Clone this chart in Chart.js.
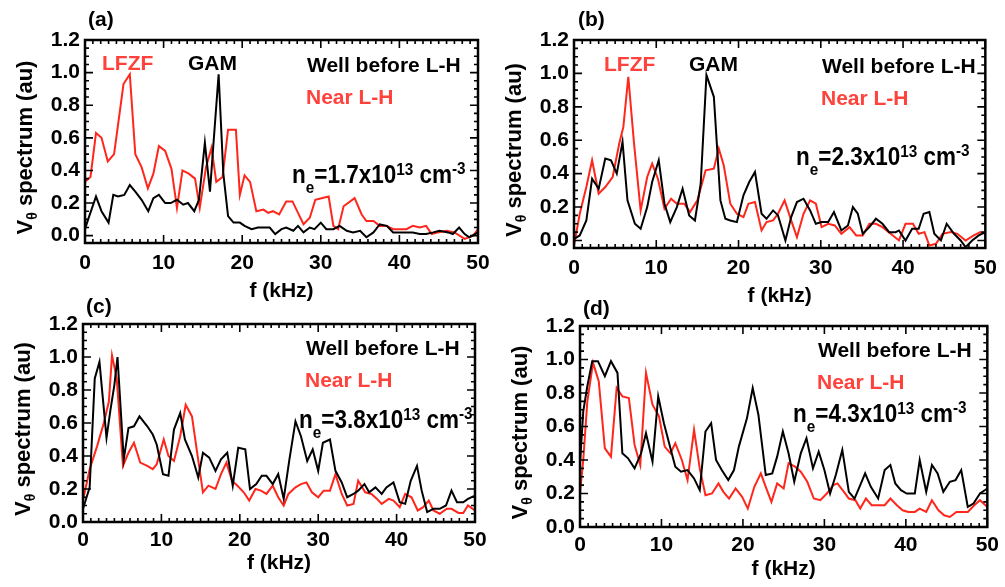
<!DOCTYPE html>
<html>
<head>
<meta charset="utf-8">
<script src="https://cdn.jsdelivr.net/npm/chart.js@4.4.1/dist/chart.umd.min.js"></script>
<style>
  html, body { margin: 0; padding: 0; background: #fff; }
  #wrap { position: relative; width: 1005px; height: 587px; overflow: hidden; }
  #wrap canvas { position: absolute; left: 0; top: 0; }
</style>
</head>
<body>
<div id="wrap">
  <canvas id="pa" width="1005" height="587"></canvas>
  <canvas id="pb" width="1005" height="587"></canvas>
  <canvas id="pc" width="1005" height="587"></canvas>
  <canvas id="pd" width="1005" height="587"></canvas>
</div>
<script>
// tick labels (shared by all 4 panels)
const xTicks = [0, 10, 20, 30, 40, 50];
const yTicks = [0, 0.2, 0.4, 0.6, 0.8, 1.0, 1.2];

// (a) ne = 1.7e13
const freqA_wb = [0,0.4,1.4,2.1,3.0,3.6,4.2,5.0,5.7,6.4,7.2,8.05,8.7,9.4,10.2,10.9,11.7,12.5,13.1,13.9,14.5,15.25,15.9,16.2,17.0,17.6,18.2,18.9,19.7,20.3,21.2,22.0,22.7,23.5,24.2,25.0,25.6,26.5,27.1,27.8,28.6,29.2,30.0,30.7,31.6,32.4,33.3,34.1,35.0,35.8,36.7,37.5,38.4,39.2,40.0,40.9,41.7,42.6,43.4,44.3,45.1,46.2,46.8,47.6,48.3,48.9,50];
const specA_wb = [0.04,0.10,0.24,0.15,0.08,0.25,0.24,0.25,0.31,0.27,0.22,0.15,0.23,0.25,0.20,0.20,0.22,0.19,0.20,0.15,0.22,0.57,0.27,0.47,0.99,0.38,0.12,0.08,0.08,0.06,0.04,0.05,0.05,0.05,0.01,0.04,0.05,0.03,0.06,0.02,0.05,0.04,0.08,0.04,0.04,0.06,0.03,0.02,0.03,-0.01,0.02,0.07,0.06,0.02,0.02,0.02,0.02,0.01,0.01,0.02,0.03,0.02,0.01,0.05,0.01,-0.01,0.02];
const freqA_nr = [0,0.7,1.4,2.1,2.9,3.7,4.9,5.7,6.4,7.2,8.0,8.7,9.4,10.2,11.0,11.7,12.4,13.2,14.0,14.6,15.4,16.1,16.7,17.5,18.2,19.2,19.7,20.3,21.0,21.8,22.7,23.3,23.9,24.7,25.6,26.4,27.1,27.8,28.6,29.3,30.1,31.0,31.6,32.2,32.9,34.3,35.2,35.8,36.7,37.5,38.4,39.2,40.0,40.9,41.7,42.6,43.4,44.1,44.9,46.0,47.0,48.3,49.4,50];
const specA_nr = [0.33,0.36,0.63,0.60,0.455,0.50,0.93,0.99,0.50,0.42,0.29,0.38,0.55,0.52,0.41,0.17,0.40,0.38,0.35,0.17,0.42,0.54,0.33,0.36,0.65,0.65,0.25,0.37,0.33,0.15,0.16,0.14,0.15,0.13,0.21,0.21,0.14,0.07,0.11,0.22,0.23,0.24,0.06,0.04,0.18,0.23,0.13,0.09,0.09,0.06,0.06,0.04,0.04,0.04,0.06,0.05,0.06,0.01,0.02,0.03,0.02,-0.02,0.0,0.04];

// (b) ne = 2.3e13
const freqB_wb = [0,0.7,1.5,2.2,3.0,3.8,4.5,5.2,5.9,6.5,7.4,8.1,8.9,9.5,10.3,11.0,11.7,12.5,13.2,14.0,14.7,15.4,16.1,17.0,17.8,18.4,19.0,19.8,20.6,21.3,22.0,22.8,23.4,24.2,24.8,25.7,26.4,27.1,27.9,28.7,29.4,30.1,30.9,31.6,32.5,33.3,33.9,34.5,35.1,35.9,36.7,37.5,38.3,39.1,39.5,40.3,41.1,41.9,42.5,43.2,43.8,44.6,45.3,46.2,47.0,47.6,48.4,49.2,50];
const specB_wb = [0.01,0.03,0.12,0.37,0.31,0.49,0.48,0.40,0.59,0.24,0.10,0.07,0.20,0.35,0.48,0.22,0.11,0.20,0.31,0.15,0.12,0.34,0.99,0.86,0.24,0.13,0.12,0.11,0.27,0.35,0.41,0.16,0.13,0.18,0.15,0.0,0.14,0.23,0.25,0.18,0.10,0.11,0.11,0.17,0.06,0.09,0.20,0.16,0.04,0.08,0.13,0.10,0.05,0.05,0.06,0.0,0.07,0.07,0.16,0.17,0.04,0.0,0.10,0.04,0.0,-0.04,0.0,0.03,0.05];
const freqB_nr = [0,0.7,1.5,2.2,3.0,3.8,4.7,5.5,6.0,6.6,7.3,8.1,8.9,9.5,10.2,11.0,11.8,12.5,13.4,14.1,15.0,16.0,17.0,17.6,18.2,19.0,19.8,20.6,21.2,22.0,22.8,23.4,24.2,24.8,25.6,26.4,27.1,27.9,28.7,29.4,30.1,30.9,31.7,32.5,33.5,34.3,35.1,35.9,36.7,37.5,38.5,39.5,40.3,41.2,41.9,42.6,43.2,44.0,44.8,45.8,46.6,47.6,48.6,49.4,50];
const specB_nr = [-0.03,0.16,0.32,0.48,0.28,0.32,0.38,0.58,0.68,0.98,0.58,0.18,0.38,0.46,0.37,0.19,0.25,0.22,0.22,0.17,0.24,0.42,0.43,0.55,0.45,0.22,0.16,0.14,0.22,0.23,0.06,0.11,0.12,0.16,0.24,0.12,0.02,0.16,0.24,0.22,0.08,0.10,0.09,0.04,0.08,0.03,0.03,0.10,0.10,0.08,0.04,0.0,0.10,0.10,0.04,0.05,-0.03,-0.02,0.04,0.05,0.04,0.0,0.03,0.05,0.04];

// (c) ne = 3.8e13
const freqC_wb = [0,0.85,1.5,2.1,3.0,3.5,4.0,4.4,5.2,5.8,6.5,7.2,8.2,8.9,9.4,10.2,10.9,11.6,12.4,13.0,13.9,14.7,15.3,16.1,16.9,17.6,18.4,19.1,19.8,20.7,21.3,22.1,22.8,23.4,24.2,24.9,25.6,26.3,27.1,27.8,28.6,29.3,30.0,30.6,31.5,32.2,33.0,33.7,34.5,35.1,35.9,36.5,37.3,38.1,38.7,39.6,40.4,41.1,41.8,42.6,43.2,43.9,44.7,45.5,46.3,47.0,47.7,48.5,49.1,50];
const specC_wb = [0.08,0.21,0.87,0.97,0.51,0.68,0.83,1.0,0.38,0.57,0.58,0.64,0.58,0.53,0.47,0.29,0.28,0.56,0.66,0.50,0.40,0.27,0.42,0.39,0.31,0.38,0.42,0.22,0.45,0.44,0.20,0.23,0.28,0.28,0.23,0.29,0.14,0.37,0.61,0.52,0.37,0.44,0.31,0.48,0.50,0.31,0.24,0.15,0.17,0.19,0.23,0.18,0.21,0.17,0.21,0.24,0.12,0.11,0.25,0.34,0.19,0.06,0.08,0.08,0.10,0.19,0.12,0.12,0.14,0.16];
const freqC_nr = [0,0.85,1.8,2.6,3.3,3.7,4.3,5.1,5.8,6.5,7.3,8.2,8.9,9.4,10.3,10.9,11.6,12.4,13.1,13.9,14.5,15.3,16.0,16.9,17.6,18.3,19.0,19.7,20.5,21.2,22.0,22.7,23.4,24.2,24.9,25.6,26.2,27.1,27.8,28.5,29.2,30.0,30.7,31.5,32.2,33.0,33.7,34.5,35.1,36.0,36.8,37.5,38.1,39.0,39.6,40.4,41.1,41.9,42.7,43.4,44.1,44.7,45.5,46.4,47.0,47.9,48.5,49.1,50];
const specC_nr = [0.13,0.32,0.46,0.59,0.73,1.01,0.87,0.34,0.42,0.48,0.36,0.34,0.32,0.35,0.50,0.40,0.37,0.52,0.71,0.64,0.44,0.18,0.22,0.20,0.29,0.36,0.25,0.22,0.18,0.13,0.20,0.19,0.17,0.22,0.15,0.10,0.17,0.21,0.23,0.24,0.18,0.15,0.19,0.19,0.29,0.17,0.10,0.11,0.25,0.18,0.17,0.14,0.11,0.14,0.13,0.09,0.17,0.15,0.07,0.09,0.13,0.07,0.05,0.08,0.08,0.055,0.055,0.10,0.07];

// (d) ne = 4.3e13
const freqD_wb = [0,0.4,0.9,1.5,2.2,3.05,3.8,4.6,5.2,5.9,6.7,7.5,8.1,8.9,9.6,10.3,11.1,11.7,12.4,13.2,14.0,14.7,15.4,16.1,16.7,17.4,18.2,18.9,19.5,20.5,21.2,21.9,22.8,23.6,24.2,24.9,25.6,26.3,27.1,27.8,28.6,29.3,30.0,30.7,31.4,32.2,33.0,33.7,34.4,35.0,35.7,36.6,37.4,38.1,38.7,39.4,40.1,41.1,41.7,42.5,43.2,43.9,44.6,45.4,46.1,46.8,47.6,48.3,49.1,50];
const specD_wb = [0.38,0.69,0.84,0.99,0.99,0.90,0.99,0.92,0.44,0.41,0.35,0.44,0.56,0.39,0.78,0.62,0.47,0.36,0.33,0.34,0.29,0.22,0.57,0.62,0.40,0.34,0.28,0.34,0.48,0.65,0.83,0.67,0.31,0.32,0.42,0.57,0.44,0.27,0.44,0.53,0.35,0.45,0.34,0.20,0.31,0.46,0.21,0.17,0.25,0.32,0.24,0.17,0.34,0.37,0.26,0.22,0.20,0.20,0.40,0.21,0.37,0.32,0.21,0.27,0.28,0.34,0.12,0.14,0.20,0.23];
const freqD_nr = [0,0.4,0.9,1.6,2.3,3.05,3.8,4.5,5.2,6.0,6.7,7.4,8.1,8.9,9.7,10.4,11.1,11.7,12.5,13.2,14.0,14.7,15.4,16.2,17.0,17.6,18.3,19.1,19.9,20.6,21.4,22.2,22.8,23.5,24.2,25.0,25.6,26.4,27.1,27.9,28.7,29.5,30.3,31.1,31.6,32.4,33.0,33.8,34.4,35.1,35.8,36.6,37.4,38.1,38.9,39.6,40.3,41.1,41.7,42.5,43.2,44.0,44.7,45.4,46.2,47.0,47.6,48.4,49.1,50];
const specD_nr = [0.20,0.40,0.75,0.98,0.87,0.47,0.42,0.83,0.78,0.77,0.49,0.37,0.92,0.73,0.66,0.48,0.44,0.50,0.40,0.28,0.58,0.35,0.19,0.20,0.26,0.21,0.17,0.23,0.18,0.11,0.24,0.32,0.24,0.15,0.26,0.23,0.38,0.36,0.33,0.27,0.17,0.16,0.20,0.25,0.26,0.21,0.17,0.16,0.11,0.17,0.13,0.13,0.13,0.17,0.13,0.10,0.09,0.09,0.11,0.09,0.16,0.10,0.07,0.06,0.09,0.09,0.09,0.13,0.16,0.12];

const FONT = "'Liberation Sans', Arial, Helvetica, sans-serif";
const RED = 'rgb(255,38,28)';
const RED_TXT = 'rgb(255,66,60)';
const FRAME = '#000000';

// draw a run of text pieces (for sub/superscripts), optional horizontal squeeze
function richText(ctx, x, y, parts, sx) {
  ctx.save();
  ctx.translate(x, y);
  ctx.scale(sx || 1, 1);
  ctx.textBaseline = 'alphabetic';
  ctx.textAlign = 'left';
  let cx = 0;
  parts.forEach(p => {
    ctx.font = 'bold ' + p.size + 'px ' + FONT;
    ctx.fillStyle = p.color || '#000';
    ctx.fillText(p.t, cx, p.dy || 0);
    cx += ctx.measureText(p.t).width + (p.gap || 0);
  });
  ctx.restore();
}

function textWidth(ctx, parts) {
  let w = 0;
  parts.forEach(p => {
    ctx.font = 'bold ' + p.size + 'px ' + FONT;
    w += ctx.measureText(p.t).width + (p.gap || 0);
  });
  return w;
}

// plot frame with inward ticks on all four sides
const frameTicks = {
  id: 'frameTicks',
  afterDatasetsDraw(chart) {
    const ctx = chart.ctx;
    const a = chart.chartArea;
    const xs = chart.scales.x;
    const ys = chart.scales.y;
    ctx.save();
    ctx.strokeStyle = FRAME;
    ctx.lineWidth = 2.5;
    ctx.strokeRect(a.left, a.top, a.right - a.left, a.bottom - a.top);
    ctx.lineWidth = 1.6;
    ctx.beginPath();
    // x: major every 10 kHz, minor every 1 kHz
    for (let f = 0; f <= 50; f++) {
      const px = xs.getPixelForValue(f);
      const len = f % 10 === 0 ? 8 : 4;
      ctx.moveTo(px, a.bottom); ctx.lineTo(px, a.bottom - len);
      ctx.moveTo(px, a.top); ctx.lineTo(px, a.top + len);
    }
    // y: major every 0.2, minor every 0.05
    for (let k = 0; k <= 24; k++) {
      const py = ys.getPixelForValue(k * 0.05);
      const len = k % 4 === 0 ? 8 : 4;
      ctx.moveTo(a.left, py); ctx.lineTo(a.left + len, py);
      ctx.moveTo(a.right, py); ctx.lineTo(a.right - len, py);
    }
    ctx.stroke();
    ctx.restore();
  }
};

// y title with subscript theta, plus the panel annotations
const panelText = {
  id: 'panelText',
  afterDraw(chart, args, opts) {
    const ctx = chart.ctx;
    const a = chart.chartArea;
    const title = [
      { t: 'V', size: 22 },
      { t: '\u03b8', size: 14, dy: 5 },
      { t: ' spectrum (au)', size: 22 }
    ];
    const w = textWidth(ctx, title);
    ctx.save();
    ctx.translate(a.left - 53, (a.top + a.bottom) / 2 + 6);
    ctx.rotate(-Math.PI / 2);
    richText(ctx, -w / 2, 0, title);
    ctx.restore();
    opts.notes.forEach(n => richText(ctx, n.x, n.y, n.parts, n.sx));
  }
};

function label(t, x, y, color) {
  return { x, y, parts: [{ t, size: 21, color: color || '#000' }] };
}

function density(num, x, y) {
  return {
    x, y, sx: 0.9,
    parts: [
      { t: 'n', size: 25 },
      { t: 'e', size: 17, dy: 10 },
      { t: '=' + num + 'x10', size: 25 },
      { t: '13', size: 17, dy: -8 },
      { t: ' cm', size: 25 },
      { t: '-3', size: 17, dy: -9 }
    ]
  };
}

function pts(fs, vs) {
  return fs.map((f, i) => ({ x: f, y: vs[i] }));
}

function makePanel(id, box, yMin, xPad, xH, wbF, wbV, nrF, nrV, notes) {
  const tickFont = { family: FONT, size: 21, weight: 'bold' };
  new Chart(document.getElementById(id), {
    type: 'line',
    data: {
      datasets: [
        { label: 'Well before L-H', data: pts(wbF, wbV), borderColor: '#000', borderWidth: 2 },
        { label: 'Near L-H', data: pts(nrF, nrV), borderColor: RED, borderWidth: 2 }
      ]
    },
    options: {
      responsive: false,
      animation: false,
      events: [],
      elements: { point: { radius: 0 }, line: { tension: 0 } },
      layout: {
        padding: { left: box.l - 80, right: 1005 - box.r, top: box.t, bottom: 587 - box.b - xH }
      },
      plugins: {
        legend: { display: false },
        tooltip: { enabled: false },
        panelText: { notes }
      },
      scales: {
        x: {
          type: 'linear', min: 0, max: 50,
          afterBuildTicks: s => { s.ticks = xTicks.map(v => ({ value: v })); },
          afterFit: s => { s.height = xH; },
          grid: { display: false, drawTicks: false },
          border: { display: false },
          ticks: { font: tickFont, color: '#000', padding: xPad, maxRotation: 0, autoSkip: false, callback: v => String(v) },
          title: { display: true, text: 'f (kHz)', font: tickFont, color: '#000', padding: 0 }
        },
        y: {
          min: yMin, max: 1.2,
          afterBuildTicks: s => { s.ticks = yTicks.map(v => ({ value: v })); },
          afterFit: s => { s.width = 80; },
          grid: { display: false, drawTicks: false },
          border: { display: false },
          ticks: { font: tickFont, color: '#000', padding: 5, autoSkip: false, callback: v => v.toFixed(1) }
        }
      }
    },
    plugins: [frameTicks, panelText]
  });
}

makePanel('pa', { l: 85, r: 478, t: 40, b: 243 }, -0.045, 8, 61,
  freqA_wb, specA_wb, freqA_nr, specA_nr, [
    label('(a)', 88, 26),
    label('LFZF', 102, 70, RED_TXT),
    label('GAM', 188, 70),
    label('Well before L-H', 307, 72),
    label('Near L-H', 306, 104, RED_TXT),
    density('1.7', 292, 183)
  ]);

makePanel('pb', { l: 574, r: 993, t: 40, b: 248 }, -0.045, 8, 61,
  freqB_wb, specB_wb, freqB_nr, specB_nr, [
    label('(b)', 578, 26),
    label('LFZF', 604, 71, RED_TXT),
    label('GAM', 689, 71),
    label('Well before L-H', 822, 73),
    label('Near L-H', 821, 105, RED_TXT),
    density('2.3', 796, 165)
  ]);

makePanel('pc', { l: 83, r: 475, t: 324, b: 522 }, 0, 6, 54,
  freqC_wb, specC_wb, freqC_nr, specC_nr, [
    label('(c)', 86, 313),
    label('Well before L-H', 306, 355),
    label('Near L-H', 305, 387, RED_TXT),
    density('3.8', 299, 428)
  ]);

makePanel('pd', { l: 580, r: 989, t: 326, b: 527 }, 0, 6, 55,
  freqD_wb, specD_wb, freqD_nr, specD_nr, [
    label('(d)', 583, 315),
    label('Well before L-H', 818, 357),
    label('Near L-H', 817, 389, RED_TXT),
    density('4.3', 793, 422)
  ]);
</script>
</body>
</html>
